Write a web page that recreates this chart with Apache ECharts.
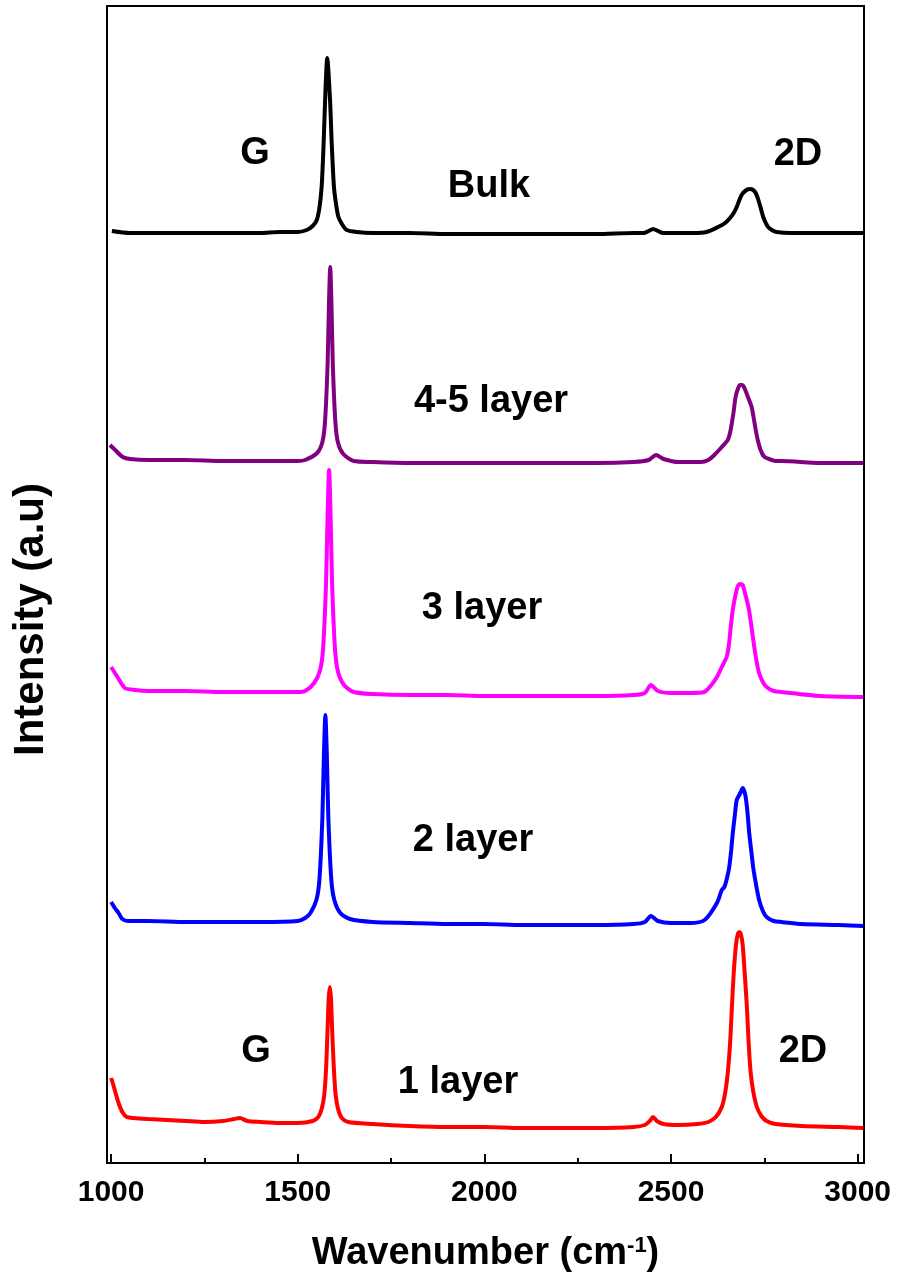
<!DOCTYPE html>
<html>
<head>
<meta charset="utf-8">
<script src="https://cdn.jsdelivr.net/npm/echarts@6/dist/echarts.min.js"></script>
<style>
  html, body { margin: 0; padding: 0; background: #ffffff; }
  #chart { width: 899px; height: 1281px; }
</style>
</head>
<body>
<div id="chart"></div>
<script>
// Raman spectra of graphene, stacked by layer count: [wavenumber (cm-1), intensity (a.u.)]
const bulk = [
  [1002,932],[1050,930],[1100,930],[1200,930],[1300,930],[1400,930],[1450,931],[1500,931],
  [1524,933],[1540,937],[1551,943],[1558,955],[1564,976],[1569,1016],[1574,1070],[1579,1105],
  [1586.5,1063],[1591,1020],[1597,976],[1603,958],[1609,946],[1620,938],[1631,933],[1658,931],
  [1700,930],[1800,930],[1900,929],[2000,929],[2100,929],[2200,929],[2300,929],[2400,930],
  [2426,930],[2440,932],[2452,934],[2465,932],[2479,930],[2520,930],[2560,930],[2595,931],
  [2626,936],[2645,940],[2658,945],[2668,950],[2676,956],[2689,968],[2702,973],[2712,974],
  [2720,973],[2727,970],[2734,963],[2741,954],[2747,946],[2754,940],[2760,936],[2770,933],
  [2783,931],[2820,930],[2900,930],[3000,930],[3015,930]
];
const layer45 = [
  [997,718],[1011,713],[1031,706],[1051,704],[1100,703],[1200,703],[1300,702],[1400,702],[1500,702],
  [1520,703],[1552,710],[1566,721],[1573,741],[1580,799],[1583.5,857],[1587,896],[1590.5,856],
  [1594,798],[1601,740],[1608,720],[1622,709],[1650,702],
  [1700,701],[1800,700],[1900,700],[2000,700],[2100,700],[2200,700],[2300,700],[2400,701],
  [2440,703],[2460,708],[2480,704],[2520,701],[2580,701],
  [2600,703],[2616,708],[2636,716],[2652,723],[2658,730],[2663,740],[2668,752],[2673,766],
  [2679,774],[2685,778],[2690,778],[2694,777],[2700,772],[2706,766],[2716,756],[2721,746],
  [2727,733],[2733,722],[2740,713],[2748,707],[2756,705],[2780,702],[2796,702],[2900,700],[3015,700]
];
const layer3 = [
  [1000,496],[1017,486],[1037,475],[1064,473],[1100,472],[1200,472],[1300,471],[1400,471],[1500,471],
  [1520,472],[1544,480],[1560,493],[1568,515],[1576,582],[1580,649],[1584,693],[1588,647],
  [1592,580],[1600,513],[1608,491],[1624,478],[1650,471],
  [1700,469],[1800,468],[1900,468],[2000,467],[2100,467],[2200,467],[2300,467],[2400,468],
  [2430,470],[2446,478],[2465,472],[2500,470],[2550,470],
  [2589,471],[2606,477],[2623,486],[2636,496],[2649,506],[2655,518],[2660,536],[2665,552],
  [2670,563],[2675,572],[2679,577],[2685,579],[2692,578],[2698,570],[2703,563],[2709,553],
  [2716,535],[2723,516],[2730,500],[2736,490],[2746,481],[2756,476],[2775,472],[2796,471],
  [2900,467],[3015,466]
];
const layer2 = [
  [1000,261],[1010,255],[1020,250],[1030,244],[1045,242],[1100,242],[1200,241],[1300,241],[1400,241],[1500,242],
  [1520,245],[1534,250],[1550,263],[1558,283],[1566,345],[1570,407],[1574,448],[1578,407],
  [1582,345],[1590,283],[1598,263],[1614,250],[1640,244],
  [1700,241],[1800,240],[1900,239],[2000,239],[2100,238],[2200,238],[2300,238],[2400,239],
  [2430,241],[2446,247],[2465,242],[2500,240],[2550,240],
  [2590,243],[2623,260],[2636,273],[2643,276],[2650,285],[2656,296],[2661,312],[2665.5,330],
  [2671,348],[2676,363],[2683,368],[2688,372],[2692,375],[2696,372],[2700,366],[2705,350],
  [2709.5,330],[2715,312],[2720,296],[2728,278],[2736,263],[2746,252],[2756,246],[2775,242],
  [2796,241],[2850,239],[2950,238],[3015,237]
];
const layer1 = [
  [1000,85],[1006,78],[1012,70],[1020,60],[1030,51],[1042,46],[1060,45],[1100,44],[1150,43],
  [1200,42],[1250,41],[1300,42],[1330,44],[1345,45],[1365,42],[1400,41],[1450,40],[1500,40],
  [1540,42],[1555,46],[1564,54],[1571,68],[1576,95],[1580,135],[1583,165],[1586,176],[1589,165],
  [1592,135],[1596,100],[1601,70],[1608,54],[1618,45],[1635,41],
  [1700,39],[1800,37],[1900,36],[2000,36],[2100,35],[2200,35],[2300,35],[2400,36],
  [2430,38],[2443,42],[2452,46],[2462,42],[2480,39],[2520,38],[2570,39],
  [2600,41],[2620,46],[2636,56],[2645,70],[2652,90],[2658,118],[2663,155],[2668,190],[2674,218],
  [2679,229],[2683,231],[2687,229],[2692,218],[2697,192],[2703,158],[2708,120],[2713,92],
  [2720,72],[2730,56],[2742,47],[2756,42],[2780,39],[2850,37],[2950,36],[3015,35]
];

const seriesNames = ['Bulk', '4-5 layer', '3 layer', '2 layer', '1 layer'];
const seriesData = [bulk, layer45, layer3, layer2, layer1];
const seriesColors = ['#000000', '#800080', '#ff00ff', '#0000ff', '#ff0000'];

const majorTicks = [1000, 1500, 2000, 2500, 3000];
const minorTicks = [1250, 1750, 2250, 2750];

// Annotation labels placed over the plot
const annotations = [
  { text: 'G', x: 255, y: 154 },
  { text: 'Bulk', x: 489, y: 187 },
  { text: '2D', x: 798, y: 155 },
  { text: '4-5 layer', x: 491, y: 402 },
  { text: '3 layer', x: 482, y: 609 },
  { text: '2 layer', x: 473, y: 841 },
  { text: 'G', x: 256, y: 1052 },
  { text: '1 layer', x: 458, y: 1083 },
  { text: '2D', x: 803, y: 1052 }
];

const FONT = "'Liberation Sans', Arial, sans-serif";
const chart = echarts.init(document.getElementById('chart'), null, { renderer: 'canvas' });

const option = {
  backgroundColor: '#ffffff',
  animation: false,
  grid: {
    left: 107, right: 35, top: 6, bottom: 118,
    show: true, borderColor: '#000', borderWidth: 2, backgroundColor: 'transparent'
  },
  xAxis: [
    {
      type: 'value', min: 989, max: 3017,
      axisLine: { show: true, lineStyle: { color: '#000', width: 2 } },
      axisTick: { show: true, inside: true, length: 9, customValues: majorTicks, lineStyle: { color: '#000', width: 2 } },
      axisLabel: { show: true, customValues: majorTicks, margin: 15, color: '#000',
        fontFamily: FONT, fontWeight: 'bold', fontSize: 30, formatter: v => String(v) },
      splitLine: { show: false },
      name: '{t|Wavenumber (cm}{s|-1}{t|)}',
      nameLocation: 'middle', nameGap: 72,
      nameTextStyle: {
        rich: {
          t: { fontFamily: FONT, fontWeight: 'bold', fontSize: 38, color: '#000' },
          s: { fontFamily: FONT, fontWeight: 'bold', fontSize: 22, color: '#000', verticalAlign: 'top', padding: [0, 0, 16, 0] }
        }
      }
    },
    {
      type: 'value', min: 989, max: 3017, position: 'bottom',
      axisLine: { show: false },
      axisTick: { show: true, inside: true, length: 5, customValues: minorTicks, lineStyle: { color: '#000', width: 2 } },
      axisLabel: { show: false },
      splitLine: { show: false }
    }
  ],
  yAxis: {
    type: 'value', min: 0, max: 1157,
    axisLine: { show: true, lineStyle: { color: '#000', width: 2 } },
    axisTick: { show: false }, axisLabel: { show: false }, splitLine: { show: false },
    name: 'Intensity (a.u)', nameLocation: 'middle', nameGap: 55, nameRotate: 90,
    nameTextStyle: { fontFamily: FONT, fontWeight: 'bold', fontSize: 42, color: '#000', padding: [0, 70, 0, 0] }
  },
  series: seriesNames.map((name, i) => ({
    name: name, type: 'line', data: seriesData[i], showSymbol: false, smooth: 0.25,
    lineStyle: { color: seriesColors[i], width: 4 }, itemStyle: { color: seriesColors[i] }
  })),
  graphic: annotations.map(a => ({
    type: 'text', x: a.x, y: a.y, z: 10,
    style: { text: a.text, fill: '#000', font: "bold 38px " + FONT, textAlign: 'center', textVerticalAlign: 'middle' }
  }))
};
chart.setOption(option);
</script>
</body>
</html>
